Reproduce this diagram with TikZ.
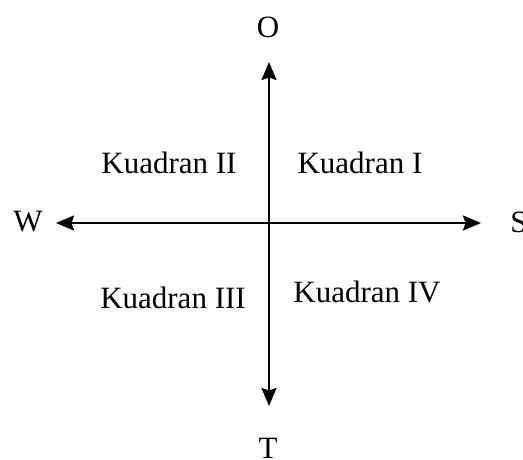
\documentclass[tikz,border=0pt]{standalone}
\usepackage{fontspec}
\setmainfont{Liberation Serif}
\usetikzlibrary{arrows.meta}

\begin{document}
\begin{tikzpicture}[x=1pt, y=-1pt, >={Stealth[length=18pt, width=15pt, inset=2.5pt]},
  lbl/.style={font=\fontsize{31}{36}\selectfont, inner sep=0pt},
  quad/.style={lbl, anchor=base}]

\useasboundingbox (0,0) rectangle (523,459);

% ends of the axes
\coordinate (north) at (269,62);
\coordinate (south) at (269,406);
\coordinate (west) at (56,223);
\coordinate (east) at (481,223);

% axes
\draw[<->, line width=2pt] (west) -- (east);
\draw[<->, line width=2pt] (south) -- (north);

% direction labels
\node[lbl] (o) at (268,27) {O};
\node[lbl] (t) at (268,448) {T};
\node[lbl] (w) at (28,222) {W};
\node[lbl] (s) at (519,222) {S};

% quadrants
\node[quad] (q1) at (360,173) {Kuadran I};
\node[quad] (q2) at (169,173) {Kuadran II};
\node[quad] (q3) at (173,308) {Kuadran III};
\node[quad] (q4) at (367,302) {Kuadran IV};

\end{tikzpicture}
\end{document}
